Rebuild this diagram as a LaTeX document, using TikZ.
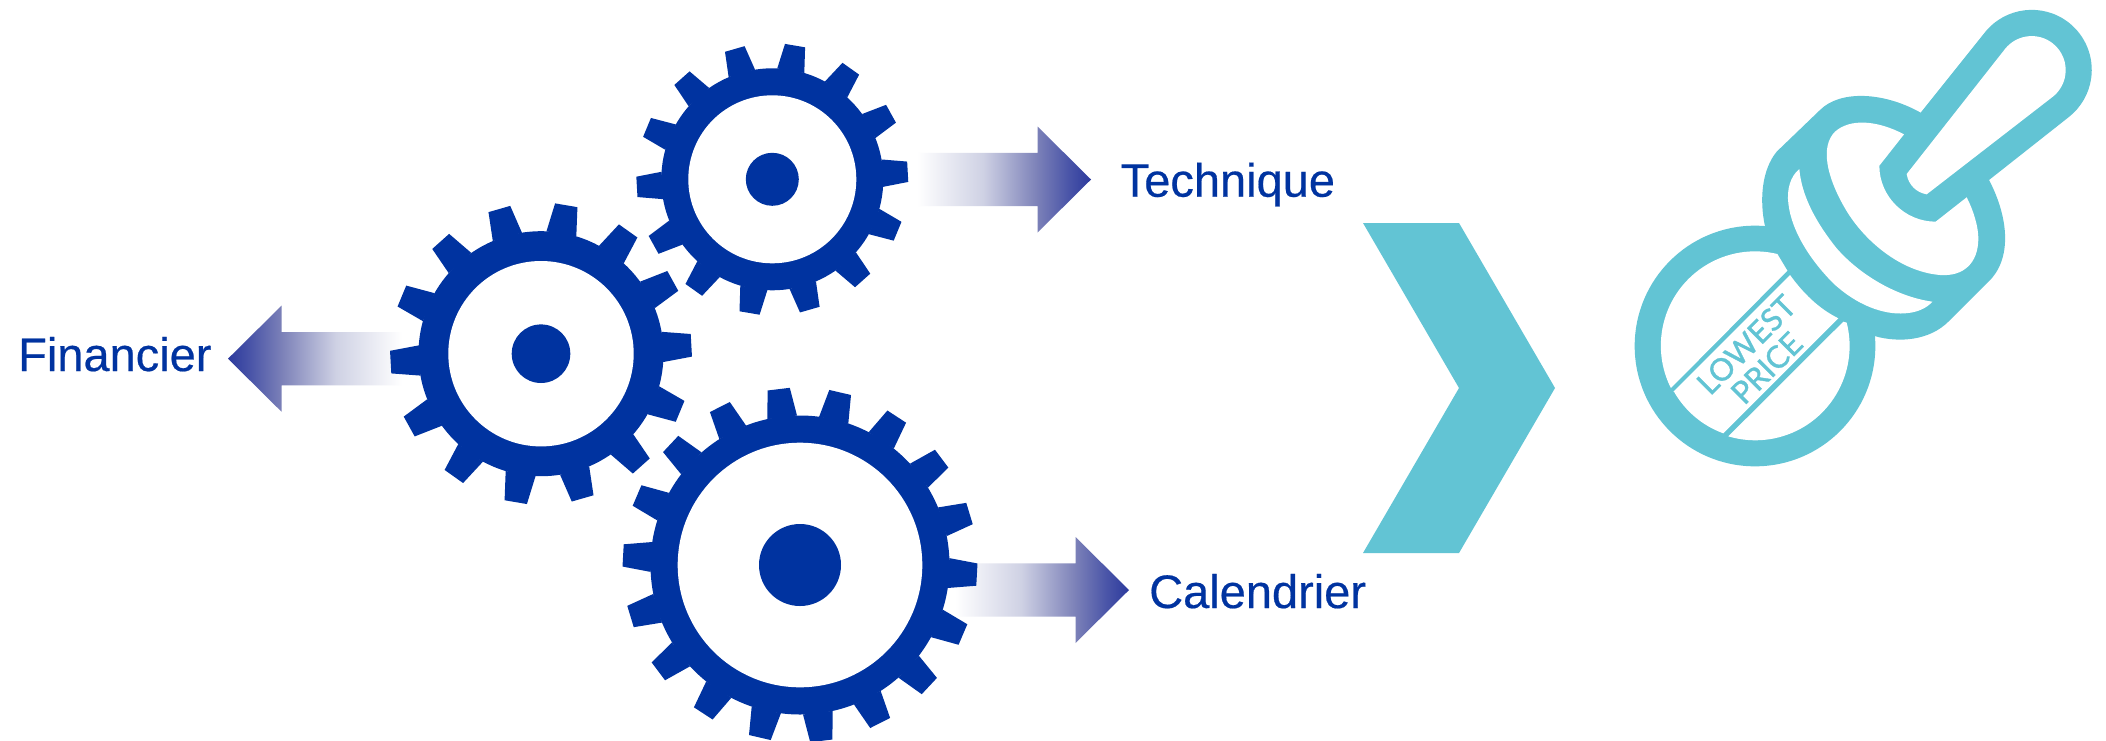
\documentclass[tikz,border=0pt]{standalone}
\usepackage{fontspec}
\setmainfont{Liberation Sans}
\newfontfamily\lblfont[FakeBold=0.4]{Liberation Sans}
\newfontfamily\stampfont[FakeBold=1.2]{Lato}
\definecolor{gearblue}{HTML}{0033A0}
\definecolor{teal}{HTML}{62C4D4}
\pgfdeclarehorizontalshading{arrowfade}{100bp}{rgb(0bp)=(1,1,1); rgb(25bp)=(1,1,1); rgb(44bp)=(0.81,0.82,0.894);
 rgb(59.5bp)=(0.486,0.506,0.722); rgb(68.5bp)=(0.29,0.333,0.659); rgb(75bp)=(0.173,0.227,0.616); rgb(100bp)=(0.173,0.227,0.616)}
\tikzset{
  lbl/.style={anchor=base west,inner sep=0pt,text=gearblue,font=\lblfont\fontsize{47}{47}\selectfont},
  stamptxt/.style={inner sep=0pt,text=teal,rotate=45,font=\stampfont\fontsize{31}{31}\selectfont},
  fade/.style={shading=arrowfade},
  fadeleft/.style={shading=arrowfade,shading angle=180}
}
\begin{document}
\begin{tikzpicture}[x=1pt,y=-1pt]
\useasboundingbox (0,0) rectangle (2106,740);
\fill[white] (0,0) rectangle (2106,740);
% arrows
\shade[fade] (917,152.8) -- (1037.5,152.8) -- (1037.5,126.5) -- (1091,179.5) -- (1037.5,232.5) -- (1037.5,206.2) -- (917,206.2) -- cycle;
\shade[fadeleft] (402,332) -- (281.5,332) -- (281.5,305.7) -- (228,358.7) -- (281.5,411.7) -- (281.5,385.4) -- (402,385.4) -- cycle;
\shade[fade] (955,563.3) -- (1075.5,563.3) -- (1075.5,537) -- (1129,590) -- (1075.5,643) -- (1075.5,616.7) -- (955,616.7) -- cycle;
% gears
\foreach \cx/\cy/\ri/\rh/\rb/\rt/\n/\ph/\bh/\th in {
  772.3/179.3/84/26.5/111/136/14/3.2/7.1/4.3,
  541/353.7/92.7/29.3/122.5/151/14/3.2/7.1/4.3,
  800/565/122.3/41/149.5/177.5/18/-3.1/5.75/3.6}{
  \fill[gearblue] (\cx,\cy) circle[radius=\rb pt];
  \foreach \k in {1,...,\n}{
    \pgfmathsetmacro\a{\ph+\k*360/\n}
    \fill[gearblue] ({\cx+\rb*cos(\a-\bh)},{\cy-\rb*sin(\a-\bh)})
      -- ({\cx+\rt*cos(\a-\th)},{\cy-\rt*sin(\a-\th)})
      -- ({\cx+\rt*cos(\a+\th)},{\cy-\rt*sin(\a+\th)})
      -- ({\cx+\rb*cos(\a+\bh)},{\cy-\rb*sin(\a+\bh)}) -- cycle;
  }
  \fill[white] (\cx,\cy) circle[radius=\ri pt];
  \fill[gearblue] (\cx,\cy) circle[radius=\rh pt];
}
% labels
\node[lbl] (technique) at (1120.5,196.7) {Technique};
\node[lbl] (financier) at (18,371) {Financier};
\node[lbl] (calendrier) at (1149,608) {Calendrier};
% chevron
\fill[teal] (1363,223) -- (1459,223) -- (1555,388) -- (1459,553) -- (1363,553) -- (1459,388) -- cycle;
% stamp icon (coordinates are a 3x grid)
\begin{scope}[shift={(1600,0)},scale=1/3]
\fill[teal] (465,1038) circle[radius=361pt];
\fill[teal] (495,679) .. controls (478,600) and (485,510) .. (530,455)
  -- (660,330) .. controls (720,270) and (850,275) .. (962,338)
  -- (1154,98) arc[start angle=141.7,end angle=-51.7,radius=180pt]
  -- (1167,540) .. controls (1225,650) and (1240,780) .. (1160,850)
  -- (1045,965) .. controls (990,1020) and (900,1030) .. (823,1008) -- cycle;
% handle interior
\fill[white] (920,522) -- (1215,147) arc[start angle=141.7,end angle=-51.7,radius=102pt]
  -- (980,583) .. controls (950,578) and (925,555) .. (920,522) -- cycle;
% upper disc interior
\fill[white] (912,403) .. controls (830,360) and (750,355) .. (705,395)
  .. controls (660,440) and (680,530) .. (735,625)
  .. controls (790,720) and (900,815) .. (1020,825)
  .. controls (1090,830) and (1135,790) .. (1135,715)
  .. controls (1135,680) and (1120,630) .. (1100,592)
  -- (1007,665) .. controls (915,665) and (838,590) .. (838,497) -- cycle;
% lower crescent
\fill[white] (598,507) .. controls (570,530) and (560,570) .. (565,610)
  .. controls (575,700) and (640,790) .. (700,850)
  .. controls (770,915) and (850,945) .. (915,940)
  .. controls (950,938) and (980,925) .. (997,905)
  .. controls (890,890) and (780,825) .. (710,745)
  .. controls (650,670) and (605,590) .. (598,507) -- cycle;
% coin interior pieces
\fill[white] (532,762) arc[start angle=76.4,end angle=206.7,radius=283pt] -- (562,812) -- cycle;
\fill[white] (220,1175) -- (570,825) .. controls (610,880) and (655,925) .. (715,955) -- (370,1300)
  arc[start angle=-110,end angle=-150.8,radius=281pt] -- cycle;
\fill[white] (730,965) -- (740,968) arc[start angle=14.3,end angle=-106.6,radius=283pt] -- cycle;
\node[stamptxt] (lowest) at (439,1034) {LOWEST};
\node[stamptxt] (price) at (500,1104) {PRICE};
\end{scope}
\end{tikzpicture}
\end{document}
